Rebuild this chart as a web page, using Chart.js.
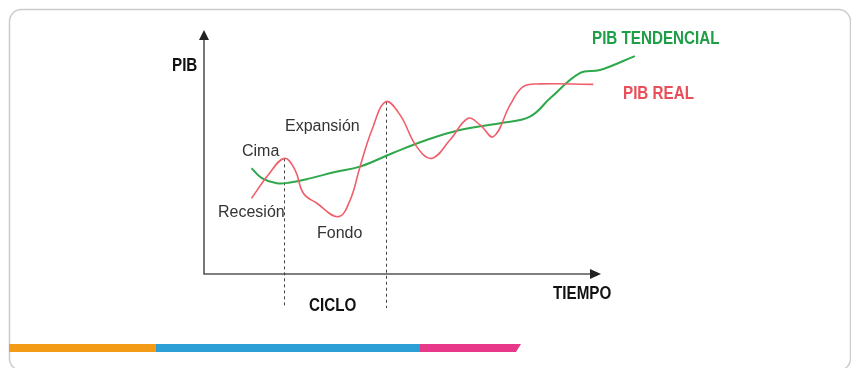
<!DOCTYPE html>
<html>
<head>
<meta charset="utf-8">
<script src="https://cdn.jsdelivr.net/npm/chart.js@4.4.1/dist/chart.umd.min.js"></script>
<style>
  html, body { margin: 0; padding: 0; background: #fff; }
  #wrap { position: relative; width: 851px; height: 368px; }
</style>
</head>
<body>
<div id="wrap"><canvas id="grafico"></canvas></div>
<script>
// Datos del ciclo económico (tiempo 0-110, PIB 0-100, unidades arbitrarias)
const tiempoReal = [12, 16.2, 20.3, 23, 25.1, 28.5, 33.9, 36.9, 39.4, 42.4, 45.9, 49.5, 53.7, 57.5, 62.1, 66.7, 69.7, 73.1, 77.3, 80.6, 84.8, 98.3];
const pibReal    = [31, 40.6, 47.4, 42.6, 33.1, 29, 23.5, 30.3, 44, 59, 70.6, 65.2, 52.2, 47.4, 54.9, 63.8, 61.1, 56.3, 69.3, 76.8, 77.9, 77.7];

const tiempoTend = [12, 14.6, 18.4, 21.7, 26.8, 33.1, 39.4, 47.7, 56.2, 64.6, 74.7, 82.3, 87.4, 94.9, 100, 108.8];
const pibTend    = [43.3, 39.3, 37.2, 37.5, 39.2, 41.8, 44, 49.6, 54.9, 59, 61.8, 64.5, 72, 82.3, 83.6, 89.3];

// picos que delimitan el ciclo (índices en pibReal)
const picosCiclo = [2, 10];

const fuenteNegrita = "bold 19px 'Liberation Sans', Arial, sans-serif";
const fuenteNormal = "16px 'Liberation Sans', Arial, sans-serif";

function flecha(ctx, x, y, dir) {
    ctx.beginPath();
    if (dir === 'arriba') {
        ctx.moveTo(x, y);
        ctx.lineTo(x - 5, y + 10);
        ctx.lineTo(x + 5, y + 10);
    } else {
        ctx.moveTo(x, y);
        ctx.lineTo(x - 11, y - 5);
        ctx.lineTo(x - 11, y + 5);
    }
    ctx.closePath();
    ctx.fill();
}

// texto estrecho (la fuente original es condensada)
function textoEstrecho(ctx, txt, x, y) {
    ctx.save();
    ctx.translate(x, y);
    ctx.scale(0.8, 1);
    ctx.fillText(txt, 0, 0);
    ctx.restore();
}

const decorado = {
    id: 'decorado',
    beforeDraw(chart) {
        const ctx = chart.ctx;
        ctx.save();
        // tarjeta
        ctx.strokeStyle = '#cccccc';
        ctx.lineWidth = 1.5;
        ctx.beginPath();
        ctx.roundRect(9.5, 9.5, 841, 361, 12);
        ctx.stroke();
        // barra de colores
        ctx.fillStyle = '#f39a17';
        ctx.fillRect(9, 344, 147, 8);
        ctx.fillStyle = '#2c9fd7';
        ctx.fillRect(156, 344, 264, 8);
        ctx.fillStyle = '#e8388a';
        ctx.beginPath();
        ctx.moveTo(420, 344);
        ctx.lineTo(521, 344);
        ctx.lineTo(516, 352);
        ctx.lineTo(420, 352);
        ctx.closePath();
        ctx.fill();
        ctx.restore();
    },
    beforeDatasetsDraw(chart) {
        const ctx = chart.ctx;
        const x = chart.scales.x, y = chart.scales.y;
        const x0 = x.getPixelForValue(0), y0 = y.getPixelForValue(0);
        const xFin = x.getPixelForValue(100) + 1, yFin = y.getPixelForValue(100);
        ctx.save();
        // ejes
        ctx.strokeStyle = '#555';
        ctx.fillStyle = '#222';
        ctx.lineWidth = 1.6;
        ctx.beginPath();
        ctx.moveTo(x0, yFin + 6);
        ctx.lineTo(x0, y0);
        ctx.lineTo(xFin - 6, y0);
        ctx.stroke();
        flecha(ctx, x0, yFin, 'arriba');
        flecha(ctx, xFin, y0, 'derecha');
        // líneas punteadas del ciclo
        ctx.strokeStyle = '#444';
        ctx.lineWidth = 1;
        ctx.setLineDash([3, 3]);
        picosCiclo.forEach(i => {
            const px = Math.round(x.getPixelForValue(tiempoReal[i])) + 0.5;
            ctx.beginPath();
            ctx.moveTo(px, y.getPixelForValue(pibReal[i]));
            ctx.lineTo(px, y0 + 34);
            ctx.stroke();
        });
        ctx.restore();
    },
    afterDraw(chart) {
        const ctx = chart.ctx;
        ctx.save();
        ctx.textBaseline = 'middle';
        ctx.textAlign = 'left';
        ctx.font = fuenteNegrita;
        ctx.fillStyle = '#111';
        textoEstrecho(ctx, 'PIB', 172, 66);
        textoEstrecho(ctx, 'TIEMPO', 553, 294);
        textoEstrecho(ctx, 'CICLO', 309, 306);
        ctx.fillStyle = '#1e9e46';
        textoEstrecho(ctx, 'PIB TENDENCIAL', 592, 39);
        ctx.fillStyle = '#e94f5a';
        textoEstrecho(ctx, 'PIB REAL', 623, 94);

        ctx.font = fuenteNormal;
        ctx.fillStyle = '#333';
        ctx.fillText('Cima', 242, 152);
        ctx.fillText('Expansión', 285, 127);
        ctx.fillText('Recesión', 218, 213);
        ctx.fillText('Fondo', 317, 234);
        ctx.restore();
    }
};

new Chart(document.getElementById('grafico'), {
    type: 'line',
    data: {
        datasets: [{
            label: 'PIB REAL',
            data: tiempoReal.map((t, i) => ({ x: t, y: pibReal[i] })),
            borderColor: '#ef5f6a',
            borderWidth: 1.6,
            pointRadius: 0,
            tension: 0.4,
            fill: false
        }, {
            label: 'PIB TENDENCIAL',
            data: tiempoTend.map((t, i) => ({ x: t, y: pibTend[i] })),
            borderColor: '#2fa84c',
            borderWidth: 2,
            pointRadius: 0,
            tension: 0.4,
            fill: false
        }]
    },
    options: {
        responsive: true,
        maintainAspectRatio: false,
        animation: false,
        layout: { padding: { left: 204, top: 30, right: 211.4, bottom: 94 } },
        plugins: { legend: { display: false }, tooltip: { enabled: false } },
        scales: {
            x: { type: 'linear', min: 0, max: 110, display: false },
            y: { min: 0, max: 100, display: false }
        }
    },
    plugins: [decorado]
});
</script>
</body>
</html>
